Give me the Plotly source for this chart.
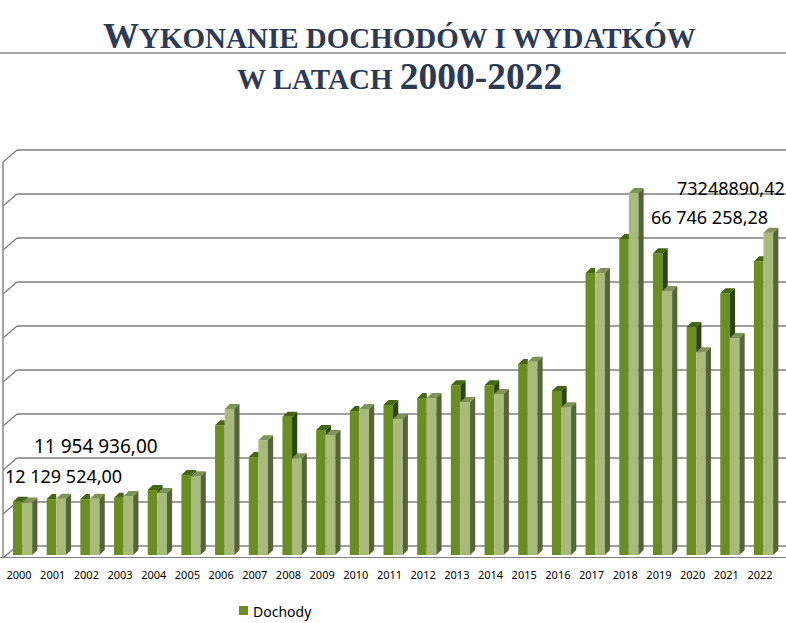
#!/usr/bin/env python
import plotly.graph_objects as go

years = list(range(2000, 2023))
# values in millions of zloty
dochody = [12.13, 12.7, 12.7, 13.0, 14.8, 18.2, 29.5, 22.3, 31.4, 28.4, 32.7, 34.1,
           35.7, 38.6, 38.6, 43.4, 37.3, 64.1, 71.8, 68.6, 51.8, 59.5, 66.75]
wydatki = [11.95, 12.8, 12.8, 13.4, 14.1, 17.9, 33.2, 26.1, 22.0, 27.3, 33.2, 30.9,
           35.7, 34.8, 36.6, 43.9, 33.6, 64.1, 82.3, 60.0, 46.1, 49.3, 73.25]
grid_values = [0, 10, 20, 30, 40, 50, 60, 70, 80, 90]
label_texts = ["12 129 524,00", "11 954 936,00", "66 746 258,28", "73248890,42"]
series_name = "Dochody"
# small caps are written out: the browser's own come out too small
title_lines = ["W<span style='font-size:29px'>YKONANIE DOCHODÓW I WYDATKÓW</span>",
               "<span style='font-size:29px'>W LATACH </span><span style='font-size:37.5px'>2000-2022</span>"]

# pixel scale of the axes
W, H = 786, 623
TOP, BOTTOM = 140, 558
X0, PX_YEAR = 19, 33.68
ZERO_PX, PX_M = 555, 4.4

BAR_W = 9.6 / PX_YEAR
OFF = -6 / PX_YEAR
DX = 5.2 / PX_YEAR
DY = 5 / PX_M

DARK, DARK_TOP, DARK_SIDE = "#6b8e23", "#456612", "#2b4610"
LIGHT, LIGHT_TOP, LIGHT_SIDE = "#a9bb7b", "#7f9359", "#566539"
GRID = "#7f7f7f"
TITLE_COL = "#2b3a55"


def px_x(p):
    return 2000 + (p - X0) / PX_YEAR


def px_y(p):
    return (ZERO_PX - p) / PX_M


def paper_x(p):
    return p / W


def paper_y(p):
    return (BOTTOM - p) / (BOTTOM - TOP)


def polygons(polys, color):
    xs, ys = [], []
    for poly in polys:
        xs += [p[0] for p in poly] + [poly[0][0], None]
        ys += [p[1] for p in poly] + [poly[0][1], None]
    return go.Scatter(x=xs, y=ys, mode="lines", fill="toself", fillcolor=color,
                      line=dict(width=0), showlegend=False, hoverinfo="skip")


dark_tops, dark_sides, light_tops, light_sides = [], [], [], []
for year, d, l in zip(years, dochody, wydatki):
    a = year + OFF
    b = a + BAR_W
    c = b + BAR_W
    # the light bar stands in front of whatever part of the dark one it hides
    if d > l:
        dark_tops.append([(a, d), (b, d), (b + DX, d + DY), (a + DX, d + DY)])
        dark_sides.append([(b, l), (b, d), (b + DX, d + DY), (b + DX, l)])
    else:
        dark_tops.append([(a, d), (b, d), (b, d + DY), (a + DX, d + DY)])
    light_tops.append([(b, l), (c, l), (c + DX, l + DY), (b + DX, l + DY)])
    light_sides.append([(c, 0), (c, l), (c + DX, l + DY), (c + DX, DY)])

fig = go.Figure()
fig.add_trace(go.Bar(x=years, y=dochody, name=series_name, width=BAR_W, offset=OFF,
                     marker=dict(color=DARK, line=dict(width=0)), hoverinfo="x+y"))
fig.add_trace(go.Bar(x=years, y=wydatki, name="Wydatki", width=BAR_W, offset=OFF + BAR_W,
                     marker=dict(color=LIGHT, line=dict(width=0)), hoverinfo="x+y"))
fig.add_trace(polygons(dark_sides, DARK_SIDE))
fig.add_trace(polygons(dark_tops, DARK_TOP))
fig.add_trace(polygons(light_tops, LIGHT_TOP))
fig.add_trace(polygons(light_sides, LIGHT_SIDE))

# back wall, floor and the short diagonal ticks on the left
shapes = []
for v in grid_values:
    front = v - 3 / PX_M
    back = v + 9 / PX_M
    shapes.append(dict(type="line", layer="below", xref="x", yref="y", x0=px_x(17), x1=px_x(W),
                       y0=back, y1=back, line=dict(color=GRID, width=1.4)))
    shapes.append(dict(type="line", layer="below", xref="x", yref="y", x0=px_x(3), x1=px_x(17),
                       y0=front, y1=back, line=dict(color=GRID, width=1.4)))
shapes.append(dict(type="line", layer="below", xref="x", yref="y", x0=px_x(3), x1=px_x(3),
                   y0=-3 / PX_M, y1=grid_values[-1] - 3 / PX_M, line=dict(color=GRID, width=1.4)))
shapes.append(dict(type="line", layer="below", xref="x", yref="y", x0=px_x(0), x1=px_x(W),
                   y0=-3 / PX_M, y1=-3 / PX_M, line=dict(color=GRID, width=2)))
shapes.append(dict(type="line", layer="below", xref="paper", yref="paper", x0=0, x1=1,
                   y0=paper_y(53), y1=paper_y(53), line=dict(color="#555555", width=1.2)))
# legend swatch, next to its own text
shapes.append(dict(type="rect", xref="paper", yref="paper", x0=paper_x(239), x1=paper_x(248),
                   y0=paper_y(606), y1=paper_y(615), fillcolor=DARK, line=dict(width=0)))

annotations = []
for text, left, mid, size in zip(label_texts, [3, 32, 649, 675], [476, 446, 217, 188], [18, 19, 18, 18]):
    annotations.append(dict(text=text, xref="paper", yref="paper", x=paper_x(left), y=paper_y(mid),
                            xanchor="left", yanchor="middle", showarrow=False,
                            font=dict(family="Noto Sans", size=size, color="#000000")))
for text, mid in zip(title_lines, [36, 76]):
    annotations.append(dict(text=text, xref="paper", yref="paper", x=0.5085, y=paper_y(mid),
                            xanchor="center", yanchor="middle", showarrow=False,
                            font=dict(family="Liberation Serif", size=36, color=TITLE_COL,
                                      weight="bold")))
annotations.append(dict(text=series_name, xref="paper", yref="paper", x=paper_x(251), y=paper_y(611),
                        xanchor="left", yanchor="middle", showarrow=False,
                        font=dict(family="Noto Sans", size=14, color="#000000")))

fig.update_layout(
    width=W, height=H,
    margin=dict(l=0, r=0, t=TOP, b=H - BOTTOM, pad=0),
    paper_bgcolor="white", plot_bgcolor="white",
    barmode="overlay",
    font=dict(family="Noto Sans", color="#000000"),
    shapes=shapes, annotations=annotations,
    showlegend=False,
    xaxis=dict(range=[px_x(0), px_x(W)], tickvals=years, ticktext=[str(y) for y in years],
               showgrid=False, zeroline=False, showline=False,
               ticks="outside", ticklen=7, tickcolor="rgba(0,0,0,0)",
               tickfont=dict(size=11)),
    yaxis=dict(range=[px_y(BOTTOM), px_y(TOP)], visible=False),
)

# the page's default margin would push the figure 8px off
fig.write_html("out.html", config=dict(displayModeBar=False),
               post_script="document.body.style.margin = '0';")
